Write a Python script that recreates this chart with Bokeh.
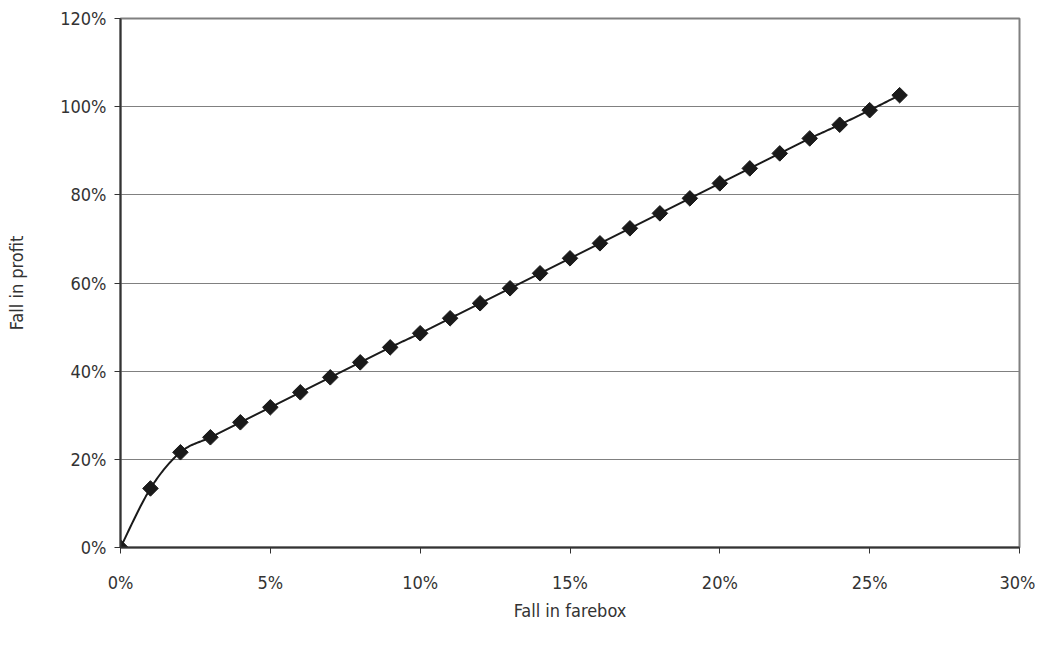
from bokeh.plotting import figure
from bokeh.models import FixedTicker, PrintfTickFormatter, Range1d, ColumnDataSource
from bokeh.embed import file_html
from bokeh.resources import INLINE
import numpy as np

# Data (percent units)
fall_in_farebox = [0, 1, 2, 3, 4, 5, 6, 7, 8, 9, 10, 11, 12, 13, 14, 15, 16, 17, 18, 19, 20, 21, 22, 23, 24, 25, 26]
fall_in_profit = [0.0, 13.4, 21.6, 25.0, 28.4, 31.8, 35.2, 38.6, 42.0, 45.4, 48.6, 52.0, 55.4, 58.8, 62.2,
                  65.6, 69.0, 72.4, 75.8, 79.2, 82.6, 86.0, 89.4, 92.8, 95.9, 99.2, 102.6]
x_ticks = [0, 5, 10, 15, 20, 25, 30]
y_ticks = [0, 20, 40, 60, 80, 100, 120]

FONT = "'DejaVu Sans Condensed', 'Liberation Sans', sans-serif"
TEXT = "#333333"

def smooth(xs, ys, n=20):
    # Catmull-Rom style smoothing (like a spreadsheet "smoothed line")
    xs = np.asarray(xs, float); ys = np.asarray(ys, float)
    px = np.concatenate([[xs[0]], xs, [xs[-1]]])
    py = np.concatenate([[ys[0]], ys, [ys[-1]]])
    ox, oy = [], []
    for i in range(1, len(px) - 2):
        p0 = np.array([px[i - 1], py[i - 1]]); p1 = np.array([px[i], py[i]])
        p2 = np.array([px[i + 1], py[i + 1]]); p3 = np.array([px[i + 2], py[i + 2]])
        c1 = p1 + (p2 - p0) / 6.0
        c2 = p2 - (p3 - p1) / 6.0
        t = np.linspace(0, 1, n, endpoint=(i == len(px) - 3))
        for tt in t:
            b = (1 - tt) ** 3 * p1 + 3 * (1 - tt) ** 2 * tt * c1 + 3 * (1 - tt) * tt ** 2 * c2 + tt ** 3 * p2
            ox.append(b[0]); oy.append(b[1])
    return ox, oy

p = figure(width=1035, height=640, output_backend="svg", toolbar_location=None,
           x_range=Range1d(0, 30), y_range=Range1d(0, 120),
           min_border_left=120, min_border_right=16, min_border_top=18, min_border_bottom=93)
p.background_fill_color = "white"
p.border_fill_color = "white"
p.outline_line_color = "#808080"
p.outline_line_width = 2

sx, sy = smooth(fall_in_farebox, fall_in_profit)
p.line(sx, sy, line_color="#1a1a1a", line_width=2)
src = ColumnDataSource(dict(x=fall_in_farebox, y=fall_in_profit))
p.scatter("x", "y", source=src, marker="square", angle=np.pi / 4, size=11,
          fill_color="#1a1a1a", line_color="#1a1a1a")

p.xgrid.visible = False
p.ygrid.ticker = FixedTicker(ticks=y_ticks)
p.ygrid.grid_line_color = "#808080"
p.ygrid.grid_line_width = 1

for ax in (p.xaxis[0], p.yaxis[0]):
    ax.axis_line_color = "#333333"
    ax.axis_line_width = 2
    ax.major_tick_line_color = "#333333"
    ax.major_tick_out = 6
    ax.major_tick_in = 0
    ax.minor_tick_out = 0
    ax.minor_tick_in = 0
    ax.major_label_text_font = FONT
    ax.major_label_text_font_size = "18px"
    ax.major_label_text_color = TEXT
    ax.axis_label_text_font = FONT
    ax.axis_label_text_font_size = "18px"
    ax.axis_label_text_color = TEXT
    ax.axis_label_text_font_style = "normal"
    ax.formatter = PrintfTickFormatter(format="%d%%")

p.xaxis.ticker = FixedTicker(ticks=x_ticks)
p.yaxis.ticker = FixedTicker(ticks=y_ticks)
p.xaxis.axis_label = "Fall in farebox"
p.yaxis.axis_label = "Fall in profit"
p.xaxis.major_label_standoff = 18
p.xaxis.axis_label_standoff = 4
p.yaxis.major_label_standoff = 8
p.yaxis.axis_label_standoff = 30

open("out.html", "w").write(file_html(p, INLINE))
